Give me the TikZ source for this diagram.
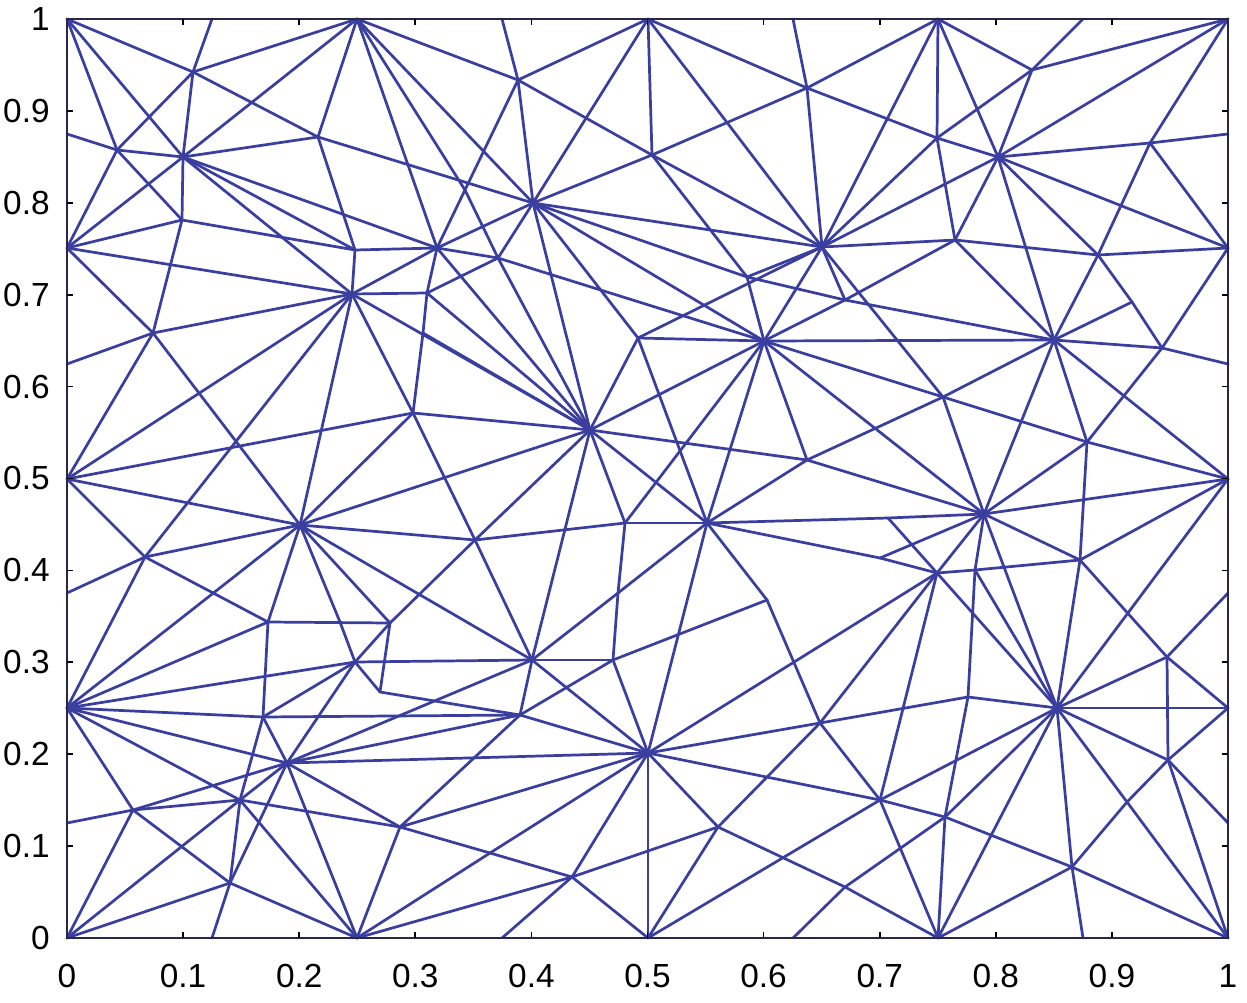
\documentclass[tikz,border=0pt]{standalone}
\usepackage{fontspec}
\setmainfont{Liberation Sans}
\definecolor{meshblue}{RGB}{58,62,158}
\definecolor{axisdark}{RGB}{40,40,70}
\begin{document}
\begin{tikzpicture}[x=0.02cm,y=-0.02cm,
  mesh/.style={draw=meshblue,line width=1.55pt,line cap=round,line join=round},
  ticklab/.style={font=\fontsize{19}{19}\selectfont,inner sep=0pt}]
\useasboundingbox (0,0) rectangle (1247,1003);
% boundary vertices
\coordinate (c00) at (67,938); \coordinate (c10) at (1228,938);
\coordinate (c01) at (67,19);  \coordinate (c11) at (1228,19);
\coordinate (t125) at (212,19); \coordinate (t25) at (357,19); \coordinate (t375) at (502,19);
\coordinate (t5) at (648,19); \coordinate (t625) at (793,19); \coordinate (t75) at (938,19); \coordinate (t875) at (1083,19);
\coordinate (b125) at (212,938); \coordinate (b25) at (357,938); \coordinate (b375) at (502,938);
\coordinate (b5) at (648,938); \coordinate (b625) at (793,938); \coordinate (b75) at (938,938); \coordinate (b875) at (1083,938);
\coordinate (l125) at (67,823); \coordinate (l25) at (67,708); \coordinate (l375) at (67,593);
\coordinate (l5) at (67,479); \coordinate (l625) at (67,364); \coordinate (l75) at (67,248); \coordinate (l875) at (67,134);
\coordinate (r125) at (1228,823); \coordinate (r25) at (1228,708); \coordinate (r375) at (1228,593);
\coordinate (r5) at (1228,479); \coordinate (r625) at (1228,364); \coordinate (r75) at (1228,248); \coordinate (r875) at (1228,134);
% interior vertices
\coordinate (v1) at (193,72); \coordinate (v2) at (117,150); \coordinate (ha) at (183,157);
\coordinate (v3) at (318,137); \coordinate (v4) at (182,220); \coordinate (hb) at (352,294);
\coordinate (v5) at (153,333); \coordinate (v11) at (355,250); \coordinate (hd) at (437,248);
\coordinate (hc) at (533,203); \coordinate (v6) at (518,80); \coordinate (v7) at (652,155);
\coordinate (v8) at (465,190); \coordinate (v9) at (498,258); \coordinate (v10) at (427,293);
\coordinate (v12) at (807,88); \coordinate (v13) at (937,138); \coordinate (he) at (822,247);
\coordinate (v15) at (747,277); \coordinate (v17) at (845,300);
\coordinate (v20) at (1032,70); \coordinate (hg) at (998,157); \coordinate (v21) at (1150,143);
\coordinate (v18) at (955,240); \coordinate (v19) at (1098,255); \coordinate (v22) at (1132,302);
\coordinate (hh) at (300,525); \coordinate (v27) at (145,557); \coordinate (v29) at (268,622);
\coordinate (v30) at (340,622); \coordinate (hi) at (590,430); \coordinate (v31) at (413,413);
\coordinate (v32) at (423,333); \coordinate (v33) at (638,338); \coordinate (v34) at (475,540);
\coordinate (v35) at (625,523); \coordinate (v36) at (390,623); \coordinate (v37) at (618,593);
\coordinate (hj) at (764,341); \coordinate (hf) at (1054,340); \coordinate (v38) at (943,397);
\coordinate (v39) at (807,460); \coordinate (hk) at (707,523); \coordinate (v42) at (888,518);
\coordinate (v43) at (880,558); \coordinate (hl) at (937,573); \coordinate (v44) at (767,600);
\coordinate (v46) at (1162,348); \coordinate (v47) at (1087,442); \coordinate (hm) at (984,514);
\coordinate (v48) at (1080,560); \coordinate (v49) at (975,570); \coordinate (hn) at (1057,708);
\coordinate (v51) at (968,697); \coordinate (v50) at (1167,657); \coordinate (v52) at (1168,760);
\coordinate (v53) at (1127,802); \coordinate (v54) at (945,817); \coordinate (v55) at (1072,867);
\coordinate (hp) at (648,753); \coordinate (v56) at (820,723); \coordinate (ho) at (880,800);
\coordinate (v57) at (718,827); \coordinate (v59) at (845,887); \coordinate (hq) at (355,662);
\coordinate (v60) at (263,717); \coordinate (hr) at (287,763); \coordinate (hs) at (240,800);
\coordinate (v61) at (133,810); \coordinate (v62) at (230,883); \coordinate (ht) at (532,660);
\coordinate (v64) at (613,660); \coordinate (v65) at (380,692); \coordinate (v67) at (520,715);
\coordinate (v68) at (400,827); \coordinate (v69) at (490,853); \coordinate (v70) at (572,877);
% mesh edges
\foreach \a/\b in {
 c01/v1, c01/v2, c01/ha, t125/v1, v1/ha, v1/t25, v1/v2, v1/v3, t25/ha, t25/v3,
 l875/v2, v2/ha, l75/v2, l75/ha, v2/v4, ha/v4, l75/v4, l75/hb, ha/v3, ha/hd, ha/v11, ha/hb,
 v4/v11, v3/v11, v3/hc, v11/hb, v11/hd, v4/v5, l75/v5, l625/v5, v5/hb, l5/v5, v5/hh, l5/hb,
 v27/hb, l5/v31, hb/hh, hb/v31,
 t25/hd, t25/hc, t25/v6, t25/v8, v8/v9, t375/v6, v6/hc, v6/t5, v6/v7, v6/hd, t5/v7, t5/he,
 t5/v12, t625/v12, v12/he, v12/t75, v12/v13, t75/he, t75/v13, v7/v12, v7/he, v7/v15,
 hc/he, hc/v15, hc/hj, he/v33, he/v17, hc/v7, hc/t5, hc/v9, hc/hd, hc/hi, hc/v33,
 hd/v10, v10/v32, v32/v31, hd/v9, hd/hb, hb/v10, v9/v10, v9/hj, v9/hi, v15/he, v15/v17,
 hd/hi, v10/hi,
 t75/hg, t75/v20, t875/v20, v20/hg, v20/v13, v20/c11, c11/hg, c11/v21, v21/r875, v21/hg,
 v21/v19, v21/r75, hg/r75, hg/v13, hg/v18, hg/v19, hg/hf, he/v18, v18/v19, v19/r75,
 v13/v18, he/v13, he/hg, v18/hf, v17/v18, v19/v22, v22/v46, hf/v22, hf/v19, v17/hf,
 hb/hi, hh/v27, l5/hh, l5/v27, l375/v27, v27/l25, hh/l25, v27/v29, hh/v29, hh/v30, v30/hq, v29/v36,
 hh/hi, hh/v31, hh/v34, hh/ht, hh/v36, hi/v31, hi/hj, hi/v39, hi/v33, hi/hk, hi/v34, hi/v35,
 hi/ht, hi/v32, v31/v34, v34/v36, v34/ht, v34/v35, v33/hj, v33/hk, hj/hf, hj/v15, hj/he,
 hj/v17, hj/v38, hj/hm, hj/v39, hj/hk, hj/v35, v37/ht, v35/v37, v36/hq, v36/v65, hq/v65,
 hf/v46, v46/r625, v46/r75, v46/v47, hf/v38, he/v38, v38/v47, v47/r5, hf/v47, hf/r5, hf/hm,
 v47/hm, v47/v48, hm/r5, hm/v48, v48/r5, hk/v42, v42/hm, v42/hl, hm/hl, hm/v49, v49/v48, hl/v49,
 v48/hn, v48/v50, r5/hn, v38/hm, v39/hm, v39/v38, hk/v43, v43/hm, v43/hl, hk/v39, hk/v44,
 hk/hp, hk/v37, hk/v35, v64/v37, v64/v44,
 hn/r25, hn/v51, v51/v49, v51/v54, v54/b75, hn/v50, v50/r375, v50/r25, v50/v52, hn/v52,
 v52/r125, r25/v52, v52/v53, v53/v55, v52/c10, hn/v53, v53/c10, hn/v55, v55/b875, v55/c10,
 v55/b75, v55/v54, hn/b75, hn/v54, ho/v54, ho/hn, hn/hl, hn/v49, hn/hm,
 hp/v56, v56/v51, hp/b5, hp/ho, hp/v57, v57/v59, v59/b75, v57/b5, v57/v70, v57/v56, hp/hl,
 v44/v56, v56/hl, ho/v56, ho/hl, ho/b75, b5/ho, b625/v59, v59/v54,
 ht/hq, ht/v64, ht/v67, ht/hp, v64/hp, v64/v67, v67/hp, v65/v67, v68/hp, v69/hp, v70/hp,
 hr/hp, hr/v68, v68/b25, v68/v69, v68/v67, v69/v70, v70/b375, v70/b5, b25/v69, b25/v70,
 l25/v29, l25/hq, l25/v60, l25/hr, l25/hs, l25/v61, v61/c00, l125/v61, v61/hr, v61/v62, v61/hs,
 v62/b25, c00/hs, c00/v62, hs/hr, hs/v62, hs/b25, hs/v60, v60/hr, v60/v29, v60/hq, hr/hq,
 hr/ht, hr/v67, hr/b25, hr/v62, b125/v62, v60/v67, hs/v68}
 \draw[mesh] (\a) -- (\b);
% axes frame
\draw[axisdark,line width=1.5pt] (c00) rectangle (c11);
\foreach \i in {1,...,9}{
  \draw[black,line width=1pt] (67+116.1*\i,938) -- ++(0,-6);
  \draw[black,line width=1pt] (67+116.1*\i,19) -- ++(0,6);
  \draw[black,line width=1pt] (67,938-91.9*\i) -- ++(6,0);
  \draw[black,line width=1pt] (1228,938-91.9*\i) -- ++(-6,0);
}
% tick labels
\foreach \v/\t in {0/0,1/0.1,2/0.2,3/0.3,4/0.4,5/0.5,6/0.6,7/0.7,8/0.8,9/0.9,10/1}{
  \node[ticklab,anchor=east] (yl\v) at (50,938-91.9*\v) {\t};
  \node[ticklab,anchor=center] (xl\v) at (67+116.1*\v,976) {\t};
}
\end{tikzpicture}
\end{document}
